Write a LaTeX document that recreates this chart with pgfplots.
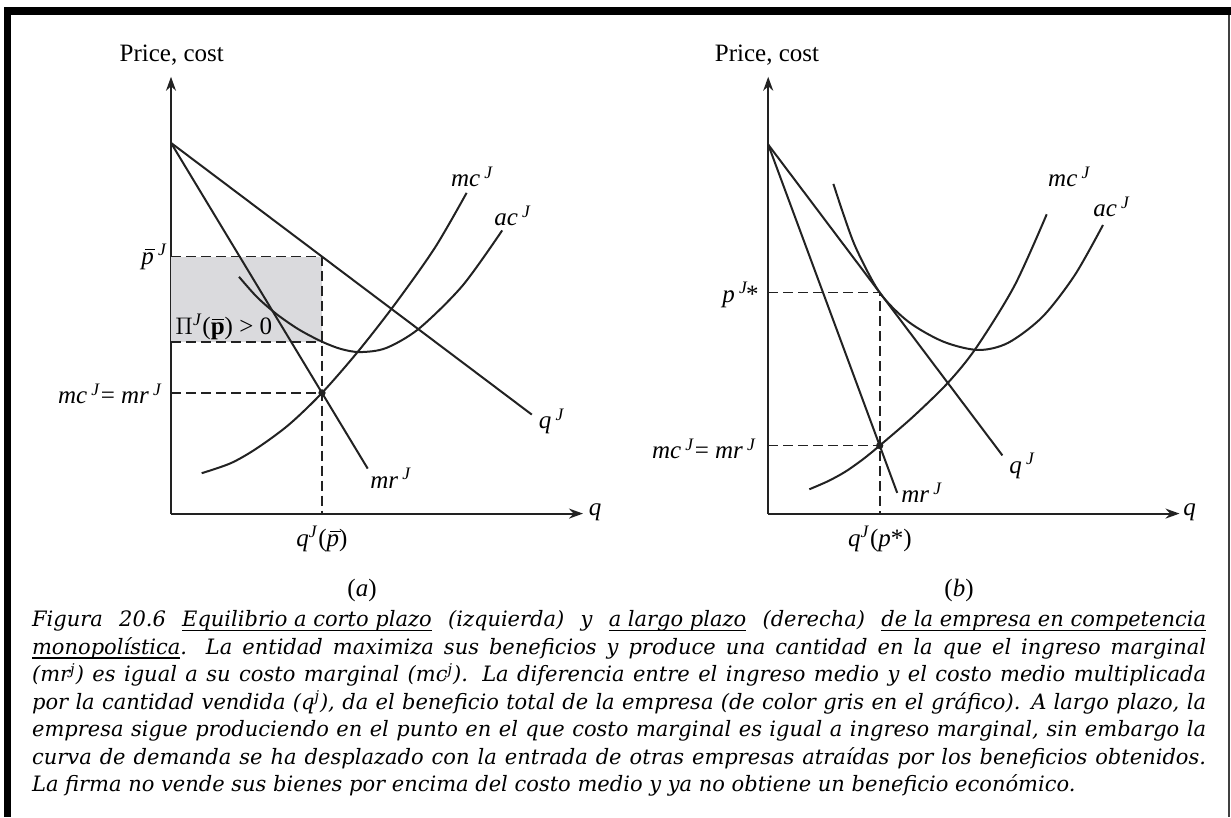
\documentclass[border=0pt]{standalone}
\usepackage{pgfplots}
\pgfplotsset{compat=1.18}
\usetikzlibrary{arrows.meta}
\usepackage{fontspec}
\setmainfont{Liberation Serif}
\newfontfamily\capfont[FakeStretch=0.99]{DejaVu Serif}

\definecolor{ink}{RGB}{34,34,34}
\definecolor{shade}{RGB}{218,218,221}

% underline at a fixed depth below the baseline
\newcommand{\ul}[1]{\setbox0\hbox{#1}\rlap{\rule[-0.2em]{\wd0}{0.07em}}\box0\relax}
% italic p with a bar over it
\newcommand{\pb}{\makebox[0pt][l]{\hspace{0.14em}\rule[0.56em]{0.42em}{0.055em}}\textit{p}}
% bold upright p with a bar over it
\newcommand{\pbb}{\makebox[0pt][l]{\hspace{0.04em}\rule[0.56em]{0.5em}{0.06em}}\textbf{p}}
\newcommand{\sj}{\,\textsuperscript{\textit{J}}}

\pgfplotsset{
  econ/.style={
    x=0.5pt, y=0.5pt, anchor=south west,
    xmin=0, ymin=0, ymax=436.8,
    axis lines=left,
    axis line style={line width=1pt, ink, -{Stealth[length=7pt,width=5pt]}},
    xtick=\empty, ytick=\empty,
    enlargelimits=false, clip=false,
  },
  curve/.style={ink, line width=1pt, no marks},
  guide/.style={ink, line width=0.9pt, dash pattern=on 5pt off 2.5pt, no marks},
}

\begin{document}
\begin{tikzpicture}[x=0.5pt,y=0.5pt]
\path (0,0) rectangle (1231,817);
% frame
\fill[black] (4,0) rectangle (11,809.5);
\fill[black] (4,802) rectangle (1231,809.5);
\draw[black!75, line width=0.7pt] (1229,0) -- (1229,802);

% ---------- (a) short run ----------
\begin{axis}[econ, at={(171,303.4)}, xmax=412]
\addplot[draw=none, fill=shade] coordinates {(0,171.9) (151,171.9) (151,257) (0,257)} --cycle;
\addplot[guide] coordinates {(0,257) (151,257) (151,0)};
\addplot[guide] coordinates {(0,171.9) (151,171.9)};
\addplot[guide] coordinates {(0,120.7) (151,120.7)};
% demand and marginal revenue
\addplot[curve] coordinates {(0,370.7) (360.8,99)};
\addplot[curve] coordinates {(0,370.7) (196.7,45)};
% marginal cost
\addplot[curve, smooth] coordinates {(30.7,40.4) (60,50.5) (86,65.4) (118,89) (151,120.7) (186.8,161.8) (224.4,210) (264,266) (295.6,320.7)};
% average cost
\addplot[curve, smooth] coordinates {(68,236.8) (86,216.5) (105.8,199.3) (128,184) (151,171.9) (170,164.6) (189,161.5) (215,165.5) (248,185) (291.6,228) (331.2,283.2)};
\addplot[only marks, mark=*, mark size=1.6pt, ink] coordinates {(151,120.7)};
\end{axis}

% ---------- (b) long run ----------
\begin{axis}[econ, at={(768.2,303.4)}, xmax=411.3]
\addplot[guide] coordinates {(0,221) (111.5,221) (111.5,0)};
\addplot[guide] coordinates {(0,68) (111.5,68)};
\addplot[curve] coordinates {(0,369) (234.2,58.2)};
\addplot[curve] coordinates {(0,369) (129,20.7)};
\addplot[curve, smooth] coordinates {(41.1,24.3) (60,32.5) (77.3,42) (95,54.5) (111.5,68) (145,97) (179.9,131) (208.1,166) (246.3,227.9) (278.5,299.3)};
\addplot[curve, smooth] coordinates {(65.2,329.7) (75,300) (88,265) (111.5,221) (140,192) (175,172) (210,163.6) (240,170.8) (274.5,197) (306.6,238.5) (334.8,288.6)};
\addplot[only marks, mark=*, mark size=1.6pt, ink] coordinates {(111.5,68)};
\end{axis}

% ---------- labels ----------
\begin{scope}[every node/.style={inner sep=0pt, font=\fontsize{12.5}{14}\selectfont}]
% (a)
\node at (171.7,817-55) {Price, cost};
\node at (595,817-512) {\textit{q}};
\node at (472.5,817-176.8) {\textit{mc}\sj};
\node at (513,817-216) {\textit{ac}\sj};
\node at (552,817-421.4) {\textit{q}\sj};
\node at (391,817-478.6) {\textit{mr}\sj};
\node[anchor=east] at (168,817-256.7) {\pb\sj};
\node[anchor=east] at (163,817-394) {\textit{mc}\sj{}= \textit{mr}\sj};
\node at (322,817-539) {\textit{q}\textsuperscript{\textit{J}}(\pb)};
\node[anchor=west] at (175,817-326.7) {$\Pi$\textsuperscript{\textit{J}}(\pbb) > 0};
\node at (362,817-590) {(\textit{a})};
% (b)
\node at (767,817-55) {Price, cost};
\node at (1189.5,817-512) {\textit{q}};
\node at (1069.6,817-176.8) {\textit{mc}\sj};
\node at (1111.9,817-207) {\textit{ac}\sj};
\node at (1022.5,817-466) {\textit{q}\sj};
\node at (922,817-492.9) {\textit{mr}\sj};
\node[anchor=east] at (759,817-294.6) {\textit{p}\sj\kern-0.1em*};
\node[anchor=east] at (757,817-449) {\textit{mc}\sj{}= \textit{mr}\sj};
\node at (880,817-539) {\textit{q}\textsuperscript{\textit{J}}(\textit{p}*)};
\node at (959,817-590) {(\textit{b})};
\end{scope}

% ---------- caption ----------
\node[anchor=base west, inner sep=0pt, font=\capfont\itshape\fontsize{10.6}{13.75}\selectfont]
  at (31.7,817-627) {\vtop{\hsize=587pt \baselineskip=13.75pt
\hbox to\hsize{Figura 20.6 \ul{Equilibrio a corto plazo} (izquierda) y \ul{a largo plazo} (derecha) \ul{de la empresa en competencia}}
\hbox to\hsize{\ul{monopolística}. La entidad maximiza sus beneficios y produce una cantidad en la que el ingreso marginal}
\hbox to\hsize{(mr\textsuperscript{j}) es igual a su costo marginal (mc\textsuperscript{j}). La diferencia entre el ingreso medio y el costo medio multiplicada}
\hbox to\hsize{por la cantidad vendida (q\textsuperscript{j}), da el beneficio total de la empresa (de color gris en el gráfico). A largo plazo, la}
\hbox to\hsize{empresa sigue produciendo en el punto en el que costo marginal es igual a ingreso marginal, sin embargo la}
\hbox to\hsize{curva de demanda se ha desplazado con la entrada de otras empresas atraídas por los beneficios obtenidos.}
\hbox{La firma no vende sus bienes por encima del costo medio y ya no obtiene un beneficio económico.}}};
\end{tikzpicture}
\end{document}
